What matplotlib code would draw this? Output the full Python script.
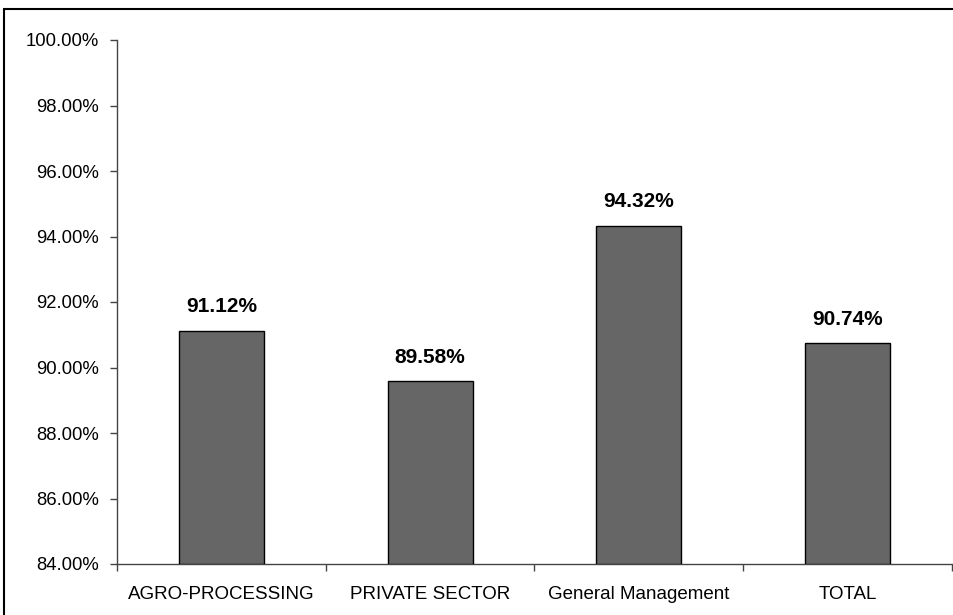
import matplotlib
matplotlib.use("Agg")
import matplotlib.pyplot as plt
from matplotlib.patches import Rectangle
from matplotlib.ticker import FuncFormatter, MultipleLocator

categories = ["AGRO-PROCESSING", "PRIVATE SECTOR", "General Management", "TOTAL"]
values = [91.12, 89.58, 94.32, 90.74]
y_min, y_max = 84.0, 100.0

plt.rcParams['font.family'] = ['Liberation Sans', 'DejaVu Sans']

fig = plt.figure(figsize=(9.54, 6.15), dpi=100)
ax = fig.add_axes([117/954, 1-564/615, (952-117)/954, (564-40)/615])

x = list(range(len(categories)))
ax.bar(x, [v - y_min for v in values], bottom=y_min, width=0.407,
       color="#666666", edgecolor="black", linewidth=1.0, zorder=3)
for xi, v in zip(x, values):
    ax.text(xi, v + 0.45, f"{v:.2f}%", ha="center", va="bottom",
            fontsize=15, fontweight="bold", color="black")

ax.set_xlim(-0.5, len(categories) - 0.5)
ax.set_ylim(y_min, y_max)
ax.yaxis.set_major_locator(MultipleLocator(2))
ax.yaxis.set_major_formatter(FuncFormatter(lambda v, p: f"{v:.2f}%"))
ax.set_xticks(x)
ax.set_xticklabels(categories)
ax.set_xticks([i - 0.5 for i in range(len(categories) + 1)], minor=True)
ax.tick_params(axis="x", which="major", length=0, pad=16, labelsize=13.5)
ax.tick_params(axis="x", which="minor", length=5, width=1, color="#444444", direction="out")
ax.tick_params(axis="y", length=5, width=1, color="#444444", labelsize=13.3, pad=8)
for s in ["top", "right"]:
    ax.spines[s].set_visible(False)
for s in ["left", "bottom"]:
    ax.spines[s].set_color("#444444")
    ax.spines[s].set_linewidth(1.0)

fig.patches.append(Rectangle((4/954, -0.1), 1.2, 1 - 9/615 + 0.1,
                             transform=fig.transFigure, fill=False,
                             edgecolor="black", linewidth=1.5))

fig.savefig("out.png", dpi=100)
